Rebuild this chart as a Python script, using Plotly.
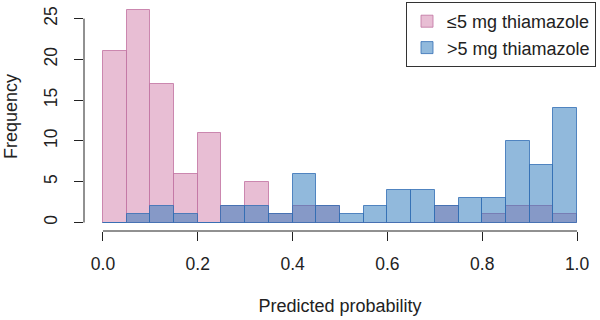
import plotly.graph_objects as go

bin_left = [0.00, 0.05, 0.10, 0.15, 0.20, 0.25, 0.30, 0.35, 0.40, 0.45,
            0.50, 0.55, 0.60, 0.65, 0.70, 0.75, 0.80, 0.85, 0.90, 0.95]
low_dose = [21, 26, 17, 6, 11, 2, 5, 1, 2, 2, 0, 0, 0, 0, 2, 0, 1, 2, 2, 1]
high_dose = [0, 1, 2, 1, 0, 2, 2, 1, 6, 2, 1, 2, 4, 4, 2, 3, 3, 10, 7, 14]
bin_width = 0.05
series_names = ["≤5 mg thiamazole", ">5 mg thiamazole"]
x_ticks = [0.0, 0.2, 0.4, 0.6, 0.8, 1.0]
x_tick_text = ["0.0", "0.2", "0.4", "0.6", "0.8", "1.0"]
y_ticks = [0, 5, 10, 15, 20, 25]

FONT = "Liberation Sans, Arial, sans-serif"

fig = go.Figure()
fig.add_trace(go.Bar(
    x=bin_left, y=low_dose, width=bin_width, offset=0,
    name=series_names[0],
    marker=dict(color="rgba(205,110,160,0.45)",
                line=dict(color="rgba(195,120,165,0.85)", width=1)),
))
fig.add_trace(go.Bar(
    x=bin_left, y=high_dose, width=bin_width, offset=0,
    name=series_names[1],
    marker=dict(color="rgba(35,115,185,0.5)",
                line=dict(color="rgba(50,110,180,0.8)", width=1)),
))

# R-style axis lines spanning only the tick range
fig.add_shape(type="line", xref="x", yref="paper", x0=0, x1=1, y0=0, y1=0,
              line=dict(color="#222", width=1))
fig.add_shape(type="line", xref="paper", yref="y", x0=0, x1=0, y0=0, y1=25,
              line=dict(color="#222", width=1))

fig.update_layout(
    width=600, height=320,
    margin=dict(l=84, r=4, t=2, b=89),
    paper_bgcolor="white", plot_bgcolor="white",
    barmode="overlay", bargap=0,
    font=dict(family=FONT, size=18, color="#222"),
    showlegend=True,
    legend=dict(x=1, xanchor="right", y=1, yanchor="top",
                bordercolor="#333", borderwidth=1, bgcolor="white",
                font=dict(family=FONT, size=18, color="#222"),
                tracegroupgap=0),
    xaxis=dict(range=[-0.04, 1.04], tickvals=x_ticks, ticktext=x_tick_text,
               ticks="outside", ticklen=9, tickcolor="#222",
               tickfont=dict(size=17.5), ticklabelstandoff=8,
               showgrid=False, zeroline=False, showline=False,
               title=dict(text="Predicted probability", standoff=26,
                          font=dict(size=18))),
    yaxis=dict(range=[-1.04, 27.04], tickvals=y_ticks, tickangle=-90,
               ticks="outside", ticklen=9, tickcolor="#222",
               tickfont=dict(size=17.5), ticklabelstandoff=10,
               showgrid=False, zeroline=False, showline=False,
               title=dict(text="Frequency", standoff=18, font=dict(size=18))),
)

fig.write_html("out.html")
